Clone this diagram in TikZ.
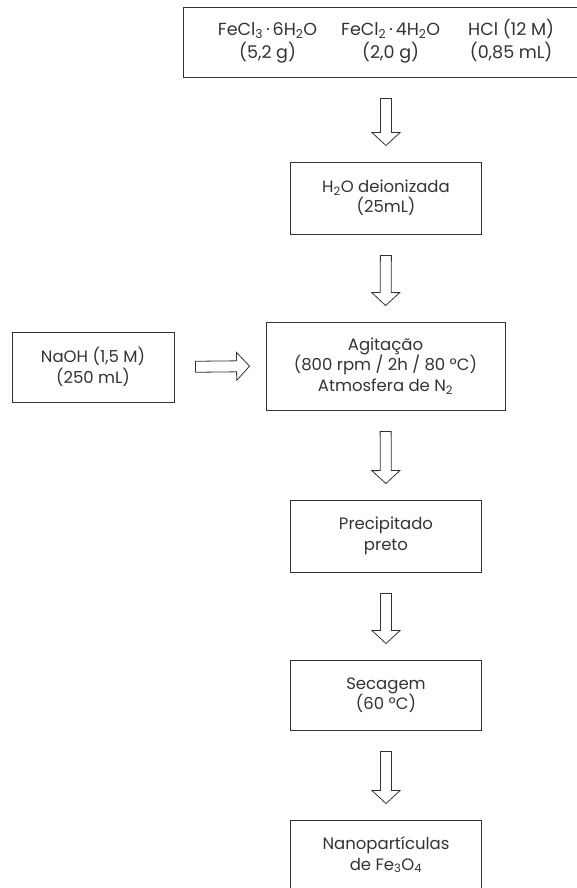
\documentclass[tikz,border=0pt]{standalone}
\usepackage{fontspec}
\setmainfont{Poppins}
\usetikzlibrary{calc}

\definecolor{inkgray}{HTML}{333333}

\tikzset{
  stage/.style={draw=inkgray, line width=0.9pt, align=center, text=inkgray,
    minimum width=191pt, minimum height=72pt, inner sep=2pt,
    font=\fontsize{16.5}{20.5}\selectfont},
  % hollow block arrow between two anchors
  hollow/.style={draw=inkgray, line width=0.8pt, fill=white, line join=miter,
    to path={
      ($(\tikztostart)!21pt!(\tikztotarget)$) coordinate (tail)
      ($(\tikztotarget)!16pt!(\tikztostart)$) coordinate (tip)
      ($(tip)!13pt!(tail)$) coordinate (neck)
      ($(tail)!5.5pt!90:(tip)$) -- ($(neck)!5.5pt!90:(tip)$) -- ($(neck)!14pt!90:(tip)$) -- (tip)
      -- ($(neck)!14pt!-90:(tip)$) -- ($(neck)!5.5pt!-90:(tip)$) -- ($(tail)!5.5pt!-90:(tip)$) -- cycle
    }}
}

\begin{document}
\begin{tikzpicture}[x=1pt, y=-1pt]
    \useasboundingbox (0,0) rectangle (576,888);
    \node[stage, minimum width=406pt, minimum height=70pt, font=\fontsize{17.5}{21}\selectfont] (reagents) at (386, 42)
        {\begin{tabular}{@{}c@{\hspace{24pt}}c@{\hspace{28pt}}c@{}}
            FeCl\textsubscript{3}\,·\,6H\textsubscript{2}O & FeCl\textsubscript{2}\,·\,4H\textsubscript{2}O & HCl (12 M)\\[1pt]
            (5,2 g) & (2,0 g) & (0,85 mL)
         \end{tabular}};
    \node[stage] (water) at (386, 198) {H\textsubscript{2}O deionizada\\(25mL)};
    \node[stage, minimum width=239pt, minimum height=88pt] (stirring) at (385.5, 366)
        {Agitação\\(800 rpm / 2h / 80 ºC)\\Atmosfera de N\textsubscript{2}};
    \node[stage, minimum width=162pt, minimum height=70pt] (naoh) at (93, 367)
        {NaOH (1,5 M)\\(250 mL)};
    \node[stage] (precipitate) at (386, 536) {Precipitado\\preto};
    \node[stage, minimum height=70pt] (drying) at (386, 695) {Secagem\\(60 ºC)};
    \node[stage, minimum height=70pt] (nanoparticles) at (386, 855) {Nanopartículas\\de Fe\textsubscript{3}O\textsubscript{4}};

    \draw[hollow] (reagents.south) to (water.north);
    \draw[hollow] (water.south) to (stirring.north);
    \draw[hollow] (stirring.south) to (precipitate.north);
    \draw[hollow] (precipitate.south) to (drying.north);
    \draw[hollow] (drying.south) to (nanoparticles.north);
    \draw[hollow] (naoh.east) to (stirring.west);
\end{tikzpicture}
\end{document}
